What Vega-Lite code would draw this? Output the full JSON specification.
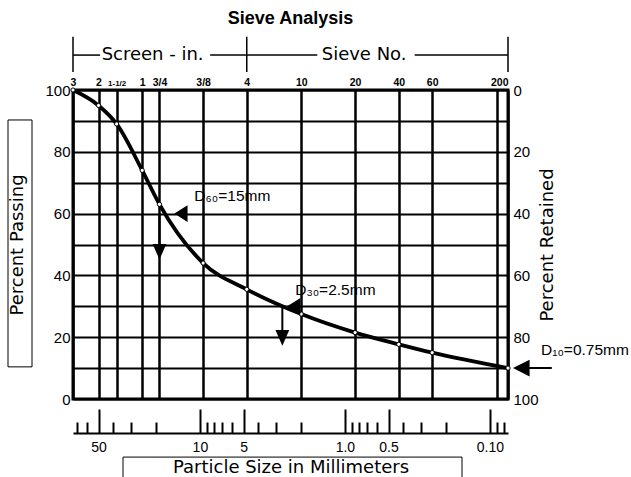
{
  "$schema": "https://vega.github.io/schema/vega-lite/v6.json",
  "width": 435,
  "height": 309,
  "autosize": {"type": "none"},
  "padding": {"left": 73, "top": 90, "right": 123, "bottom": 78},
  "background": "white",
  "title": {"text": "Sieve Analysis", "fontSize": 18, "fontWeight": "bold", "font": "Liberation Sans", "color": "black", "anchor": "middle", "offset": 8},
  "config": {
    "font": "Liberation Sans",
    "view": {"stroke": "black", "strokeWidth": 3},
    "axis": {"labelColor": "black", "titleColor": "black", "labelFont": "Liberation Sans", "titleFont": "DejaVu Sans", "titleFontWeight": "normal", "gridColor": "black", "gridOpacity": 1, "tickColor": "black", "domainColor": "black"}
  },
  "datasets": {
    "curve": [
      {"mm": 75, "pct": 100}, {"mm": 50, "pct": 95}, {"mm": 37.5, "pct": 89}, {"mm": 25, "pct": 74},
      {"mm": 19, "pct": 63}, {"mm": 9.5, "pct": 44}, {"mm": 4.75, "pct": 35.5}, {"mm": 2, "pct": 27.5},
      {"mm": 0.85, "pct": 21.5}, {"mm": 0.425, "pct": 17.7}, {"mm": 0.25, "pct": 15}, {"mm": 0.075, "pct": 10}
    ],
    "dvalues": [
      {"d": "D60", "mm": 15, "pct": 60, "label": "D₆₀=15mm"},
      {"d": "D30", "mm": 2.5, "pct": 30, "label": "D₃₀=2.5mm"},
      {"d": "D10", "mm": 0.075, "pct": 10, "label": "D₁₀=0.75mm"}
    ],
    "drops": [
      {"d": "D60", "mm": 19, "from": 60, "to": 50.2},
      {"d": "D30", "mm": 2.7, "from": 30, "to": 22.3}
    ],
    "header": [
      {"x1": 75, "x2": 48.8, "y1": 111.3, "y2": 111.3},
      {"x1": 8.5, "x2": 4.75, "y1": 111.3, "y2": 111.3},
      {"x1": 4.75, "x2": 1.55, "y1": 111.3, "y2": 111.3},
      {"x1": 0.33, "x2": 0.075, "y1": 111.3, "y2": 111.3},
      {"x1": 75, "x2": 75, "y1": 105.8, "y2": 117.2},
      {"x1": 4.75, "x2": 4.75, "y1": 105.8, "y2": 117.2},
      {"x1": 0.075, "x2": 0.075, "y1": 105.8, "y2": 117.2}
    ],
    "headertext": [
      {"text": "Screen - in.", "mm": 47.6, "y": 111.3},
      {"text": "Sieve No.", "mm": 1.445, "y": 111.3}
    ],
    "boxes": [
      {"x1": 210.5, "x2": 143.8, "y1": 90.3, "y2": 10.4},
      {"x1": 33.9, "x2": 0.1557, "y1": -18.8, "y2": -27}
    ]
  },
  "resolve": {"axis": {"x": "independent", "y": "independent"}},
  "layer": [
    {
      "data": {"name": "boxes"},
      "mark": {"type": "rect", "fill": "transparent", "stroke": "black", "strokeWidth": 1},
      "encoding": {
        "x": {"field": "x1", "type": "quantitative", "scale": {"type": "log", "domain": [0.075, 75], "reverse": true, "nice": false}, "axis": null},
        "x2": {"field": "x2"},
        "y": {"field": "y1", "type": "quantitative", "scale": {"domain": [0, 100], "nice": false, "zero": false}, "axis": null},
        "y2": {"field": "y2"}
      }
    },
    {
      "data": {"name": "curve"},
      "mark": {"type": "line", "color": "black", "strokeWidth": 3.8, "interpolate": "monotone"},
      "encoding": {
        "x": {"field": "mm", "type": "quantitative", "scale": {"type": "log", "domain": [0.075, 75], "reverse": true, "nice": false},
          "axis": {"orient": "top", "title": null,
            "values": [75, 50, 37.5, 25, 19, 9.5, 4.75, 2, 0.85, 0.425, 0.25, 0.09, 0.075],
            "labelExpr": "['3','2','1-1/2','1','3/4','3/8','4','10','20','40','60','','200'][indexof([75,50,37.5,25,19,9.5,4.75,2,0.85,0.425,0.25,0.09,0.075], datum.value)]",
            "grid": true, "gridWidth": 2.5, "ticks": false, "domain": false,
            "labelFontSize": {"condition": {"test": "datum.value == 37.5", "value": 8}, "value": 10.5},
            "labelFontWeight": "bold", "labelPadding": 3, "labelFlush": false, "labelOverlap": false,
            "labelAlign": {"condition": {"test": "datum.value == 0.075", "value": "right"}, "value": "center"}}},
        "y": {"field": "pct", "type": "quantitative", "scale": {"domain": [0, 100], "nice": false, "zero": false},
          "axis": {"orient": "left", "title": "Percent Passing",
            "values": [0, 10, 20, 30, 40, 50, 60, 70, 80, 90, 100],
            "labelExpr": "datum.value % 20 === 0 ? datum.label : ''",
            "grid": true, "gridWidth": 2, "ticks": false, "domain": false,
            "labelFontSize": 15, "labelPadding": 3, "titleFontSize": 18, "titlePadding": 18}}
      }
    },
    {
      "data": {"name": "curve"},
      "mark": {"type": "point", "shape": "circle", "filled": true, "fill": "white", "stroke": "black", "strokeWidth": 1, "size": 18, "opacity": 1},
      "encoding": {
        "x": {"field": "mm", "type": "quantitative", "scale": {"type": "log", "domain": [0.075, 75], "reverse": true, "nice": false},
          "axis": {"orient": "bottom", "offset": 34, "title": "Particle Size in Millimeters",
            "values": [70, 60, 50, 40, 30, 20, 10, 9, 8, 7, 6, 5, 4, 3, 2, 1, 0.9, 0.8, 0.7, 0.6, 0.5, 0.4, 0.3, 0.2, 0.1, 0.09, 0.08],
            "labelExpr": "datum.value == 50 ? '50' : datum.value == 10 ? '10' : datum.value == 5 ? '5' : datum.value == 1 ? '1.0' : datum.value == 0.5 ? '0.5' : datum.value == 0.1 ? '0.10' : ''",
            "tickSize": {"condition": {"test": "datum.value == 50 || datum.value == 10 || datum.value == 5 || datum.value == 1 || datum.value == 0.5 || datum.value == 0.1", "value": -24}, "value": -11},
            "tickWidth": 2, "domainWidth": 2, "grid": false,
            "labelFontSize": 14, "labelPadding": 31, "labelFlush": false, "labelOverlap": false,
            "titleFontSize": 18, "titlePadding": -9}},
        "y": {"field": "pct", "type": "quantitative", "scale": {"domain": [0, 100], "nice": false, "zero": false},
          "axis": {"orient": "right", "title": "Percent Retained",
            "values": [0, 20, 40, 60, 80, 100],
            "labelExpr": "'' + (100 - datum.value)",
            "grid": false, "ticks": false, "domain": false,
            "labelFontSize": 15, "labelPadding": 5, "titleFontSize": 18,
            "titleAngle": 270, "titleBaseline": "top", "titlePadding": 0}}
      }
    },
    {
      "data": {"name": "drops"},
      "mark": {"type": "rule", "color": "black", "strokeWidth": 2},
      "encoding": {
        "x": {"field": "mm", "type": "quantitative", "scale": {"type": "log", "domain": [0.075, 75], "reverse": true, "nice": false}, "axis": null},
        "y": {"field": "from", "type": "quantitative", "scale": {"domain": [0, 100], "nice": false, "zero": false}, "axis": null},
        "y2": {"field": "to"}
      }
    },
    {
      "data": {"name": "drops"},
      "mark": {"type": "point", "shape": "M -1.15 0 L 1.15 0 L 0 2.6 Z", "size": 144, "filled": true, "color": "black", "opacity": 1},
      "encoding": {
        "x": {"field": "mm", "type": "quantitative", "scale": {"type": "log", "domain": [0.075, 75], "reverse": true, "nice": false}, "axis": null},
        "y": {"field": "to", "type": "quantitative", "scale": {"domain": [0, 100], "nice": false, "zero": false}, "axis": null}
      }
    },
    {
      "data": {"name": "dvalues"},
      "transform": [{"filter": "datum.d != 'D10'"}],
      "mark": {"type": "point", "shape": "M 0 0 L 2.2 -1.4 L 2.2 1.4 Z", "size": 144, "filled": true, "color": "black", "opacity": 1},
      "encoding": {
        "x": {"field": "mm", "type": "quantitative", "scale": {"type": "log", "domain": [0.075, 75], "reverse": true, "nice": false}, "axis": null},
        "y": {"field": "pct", "type": "quantitative", "scale": {"domain": [0, 100], "nice": false, "zero": false}, "axis": null}
      }
    },
    {
      "data": {"name": "dvalues"},
      "transform": [{"filter": "datum.d == 'D10'"}],
      "mark": {"type": "point", "shape": "M 0.83 0 L 3.6 -1.4 L 3.6 -0.17 L 7.3 -0.17 L 7.3 0.17 L 3.6 0.17 L 3.6 1.4 Z", "size": 144, "filled": true, "color": "black", "opacity": 1},
      "encoding": {
        "x": {"field": "mm", "type": "quantitative", "scale": {"type": "log", "domain": [0.075, 75], "reverse": true, "nice": false}, "axis": null},
        "y": {"field": "pct", "type": "quantitative", "scale": {"domain": [0, 100], "nice": false, "zero": false}, "axis": null}
      }
    },
    {
      "data": {"name": "dvalues"},
      "transform": [{"filter": "datum.d == 'D60'"}],
      "mark": {"type": "text", "align": "left", "baseline": "middle", "fontSize": 15.5, "dx": 20, "dy": -18, "color": "black"},
      "encoding": {
        "x": {"field": "mm", "type": "quantitative", "scale": {"type": "log", "domain": [0.075, 75], "reverse": true, "nice": false}, "axis": null},
        "y": {"field": "pct", "type": "quantitative", "scale": {"domain": [0, 100], "nice": false, "zero": false}, "axis": null},
        "text": {"field": "label"}
      }
    },
    {
      "data": {"name": "dvalues"},
      "transform": [{"filter": "datum.d == 'D30'"}],
      "mark": {"type": "text", "align": "left", "baseline": "middle", "fontSize": 15.5, "dx": 8, "dy": -16, "color": "black"},
      "encoding": {
        "x": {"field": "mm", "type": "quantitative", "scale": {"type": "log", "domain": [0.075, 75], "reverse": true, "nice": false}, "axis": null},
        "y": {"field": "pct", "type": "quantitative", "scale": {"domain": [0, 100], "nice": false, "zero": false}, "axis": null},
        "text": {"field": "label"}
      }
    },
    {
      "data": {"name": "dvalues"},
      "transform": [{"filter": "datum.d == 'D10'"}],
      "mark": {"type": "text", "align": "left", "baseline": "middle", "fontSize": 15.5, "dx": 33, "dy": -18, "color": "black"},
      "encoding": {
        "x": {"field": "mm", "type": "quantitative", "scale": {"type": "log", "domain": [0.075, 75], "reverse": true, "nice": false}, "axis": null},
        "y": {"field": "pct", "type": "quantitative", "scale": {"domain": [0, 100], "nice": false, "zero": false}, "axis": null},
        "text": {"field": "label"}
      }
    },
    {
      "data": {"name": "header"},
      "mark": {"type": "rule", "color": "black", "strokeWidth": 1.5},
      "encoding": {
        "x": {"field": "x1", "type": "quantitative", "scale": {"type": "log", "domain": [0.075, 75], "reverse": true, "nice": false}, "axis": null},
        "x2": {"field": "x2"},
        "y": {"field": "y1", "type": "quantitative", "scale": {"domain": [0, 100], "nice": false, "zero": false}, "axis": null},
        "y2": {"field": "y2"}
      }
    },
    {
      "data": {"name": "headertext"},
      "mark": {"type": "text", "align": "left", "baseline": "middle", "fontSize": 18, "font": "DejaVu Sans", "color": "black"},
      "encoding": {
        "x": {"field": "mm", "type": "quantitative", "scale": {"type": "log", "domain": [0.075, 75], "reverse": true, "nice": false}, "axis": null},
        "y": {"field": "y", "type": "quantitative", "scale": {"domain": [0, 100], "nice": false, "zero": false}, "axis": null},
        "text": {"field": "text"}
      }
    }
  ]
}
